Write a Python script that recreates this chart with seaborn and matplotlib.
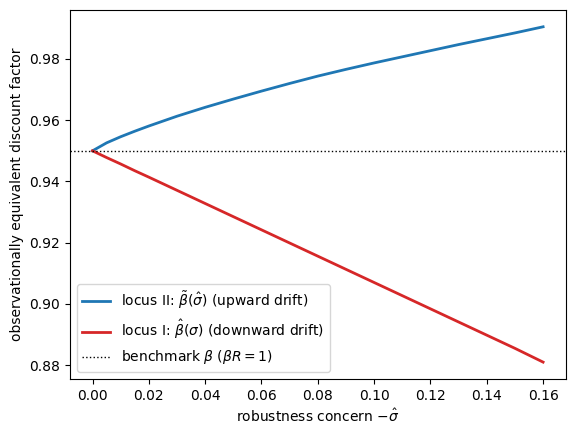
import matplotlib

matplotlib.use("Agg")
import matplotlib.pyplot as plt
import pandas as pd
import seaborn as sns

# robustness concern -sigma_hat on the x axis
sigma = [0.000, 0.005, 0.010, 0.015, 0.02, 0.03, 0.04, 0.05, 0.06, 0.07, 0.08,
         0.09, 0.10, 0.11, 0.12, 0.13, 0.14, 0.15, 0.16]
# locus II, upward drift
beta_up = [0.9500, 0.9526, 0.9546, 0.9564, 0.9581, 0.9613, 0.9642, 0.9669, 0.9695, 0.9720,
           0.9744, 0.9766, 0.9787, 0.9807, 0.9827, 0.9847, 0.9866, 0.9885, 0.9905]
# locus I, downward drift
beta_down = [0.9500, 0.9478, 0.9457, 0.9435, 0.9414, 0.9371, 0.9328, 0.9285, 0.9242, 0.9199,
             0.9156, 0.9113, 0.9070, 0.9027, 0.8984, 0.8941, 0.8898, 0.8855, 0.8810]
beta_bench = 0.95

label_up = r"locus II: $\tilde{\beta}(\hat{\sigma})$ (upward drift)"
label_down = r"locus I: $\hat{\beta}(\sigma)$ (downward drift)"
label_bench = r"benchmark $\beta$ ($\beta R = 1$)"

df = pd.DataFrame({"sigma": sigma, "up": beta_up, "down": beta_down})

fig, ax = plt.subplots(figsize=(5.76, 4.36), dpi=100)
fig.subplots_adjust(left=0.1215, right=0.982, top=0.977, bottom=0.131)

sns.lineplot(data=df, x="sigma", y="up", ax=ax, color="#1f77b4", linewidth=2, label=label_up)
sns.lineplot(data=df, x="sigma", y="down", ax=ax, color="#d62728", linewidth=2, label=label_down)
ax.axhline(beta_bench, color="black", linestyle=":", linewidth=1, label=label_bench)

ax.set_xlabel(r"robustness concern $-\hat{\sigma}$")
ax.set_ylabel("observationally equivalent discount factor")
ax.legend(loc="lower left")

fig.savefig("out.png", dpi=100)
